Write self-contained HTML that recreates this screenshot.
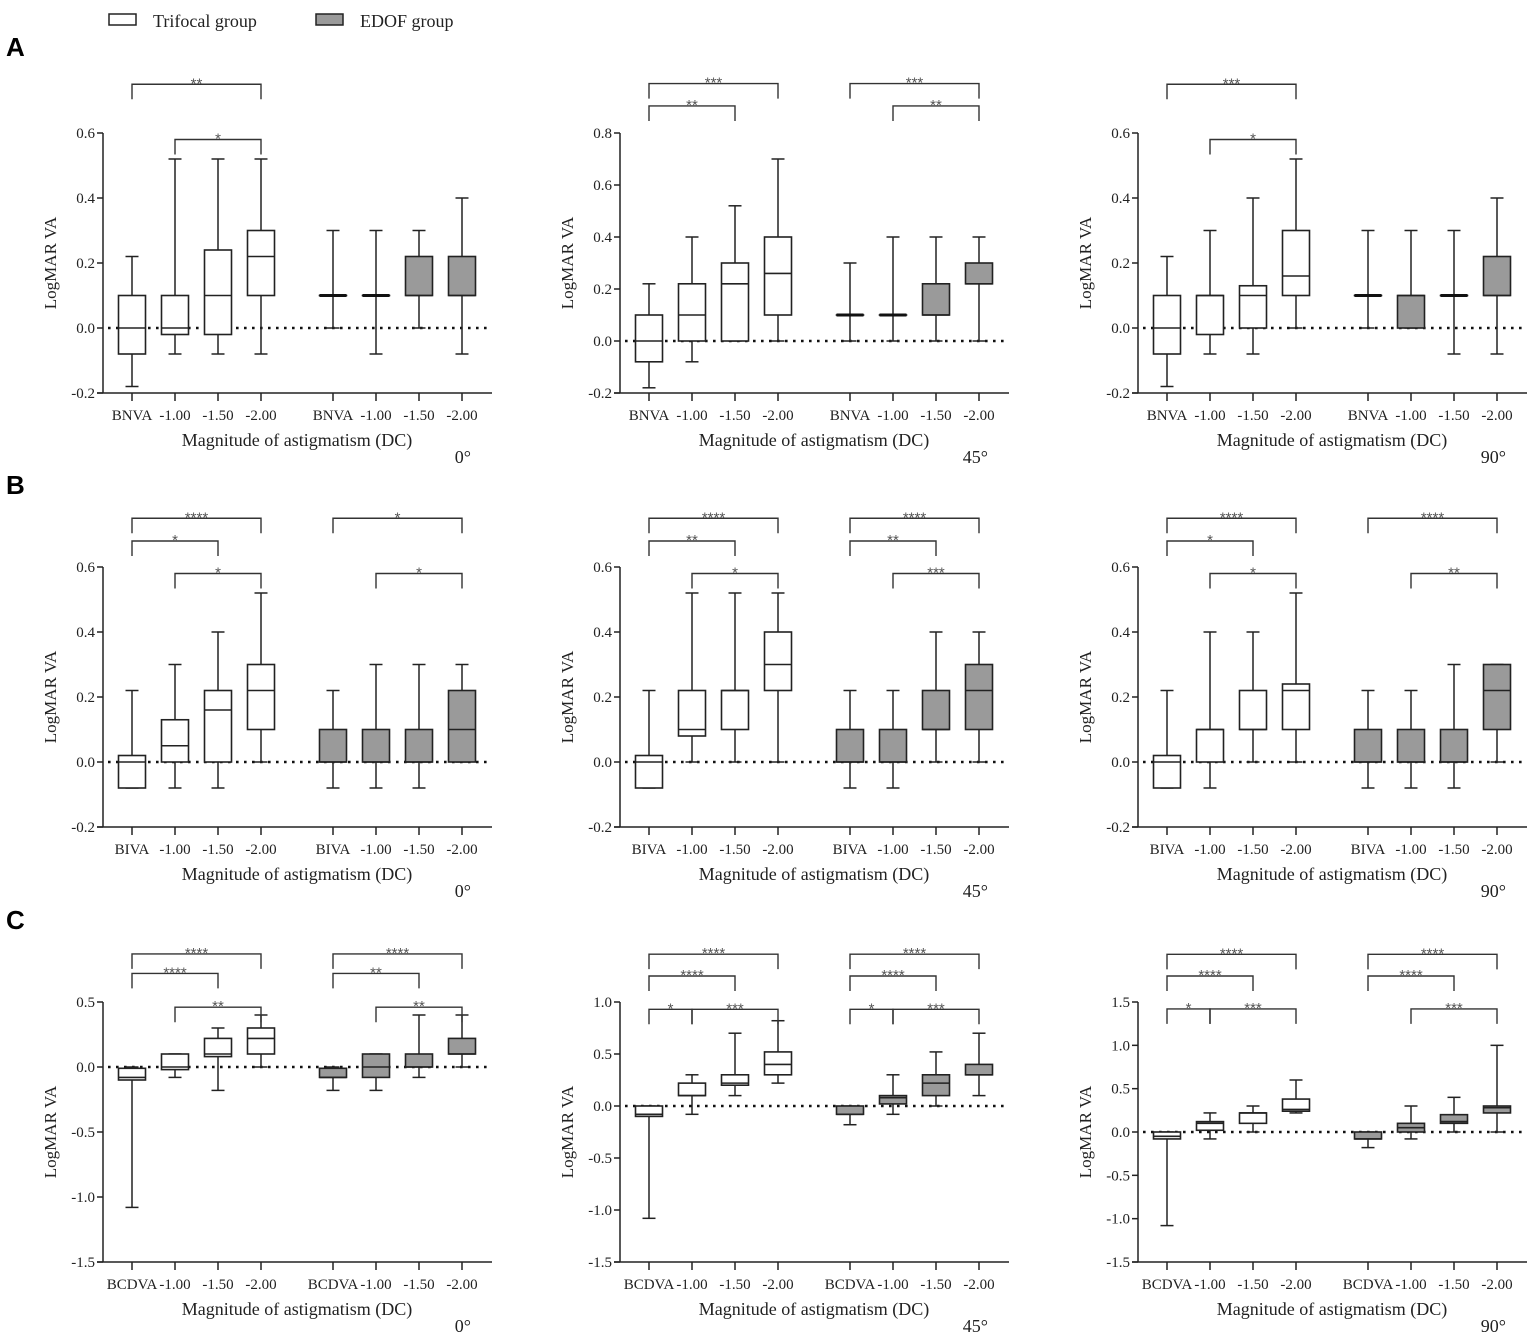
<!DOCTYPE html>
<html><head><meta charset="utf-8"><style>
html,body{margin:0;padding:0;background:#fff;}
svg{display:block;font-family:"Liberation Serif",serif;}
</style></head><body>
<svg id="fig" width="1535" height="1337" viewBox="0 0 1535 1337">
<g>
<rect x="109" y="14" width="27" height="11" fill="#fff" stroke="#222" stroke-width="1.5"/>
<text x="153" y="27" font-size="18" fill="#222">Trifocal group</text>
<rect x="316" y="14" width="27" height="11" fill="#9a9a9a" stroke="#222" stroke-width="1.5"/>
<text x="360" y="27" font-size="18" fill="#222">EDOF group</text>
</g>
<text x="6" y="56" font-family="Liberation Sans,sans-serif" font-weight="bold" font-size="26">A</text>
<text x="6" y="494" font-family="Liberation Sans,sans-serif" font-weight="bold" font-size="26">B</text>
<text x="6" y="929" font-family="Liberation Sans,sans-serif" font-weight="bold" font-size="26">C</text>
</svg>
<script>
// ---- data ----
const categoriesA = ["BNVA","-1.00","-1.50","-2.00","BNVA","-1.00","-1.50","-2.00"];
const categoriesB = ["BIVA","-1.00","-1.50","-2.00","BIVA","-1.00","-1.50","-2.00"];
const categoriesC = ["BCDVA","-1.00","-1.50","-2.00","BCDVA","-1.00","-1.50","-2.00"];
const angleLabels = ["0°","45°","90°"];
// box stats: [min, q1, median, q3, max]; first 4 trifocal, last 4 EDOF
const boxesA1 = [[-0.18,-0.08,0,0.1,0.22],[-0.08,-0.02,0,0.1,0.52],[-0.08,-0.02,0.1,0.24,0.52],[-0.08,0.1,0.22,0.3,0.52],
                 [0,0.1,0.1,0.1,0.3],[-0.08,0.1,0.1,0.1,0.3],[0,0.1,0.1,0.22,0.3],[-0.08,0.1,0.1,0.22,0.4]];
const boxesA2 = [[-0.18,-0.08,0,0.1,0.22],[-0.08,0,0.1,0.22,0.4],[0,0,0.22,0.3,0.52],[0,0.1,0.26,0.4,0.7],
                 [0,0.1,0.1,0.1,0.3],[0,0.1,0.1,0.1,0.4],[0,0.1,0.1,0.22,0.4],[0,0.22,0.22,0.3,0.4]];
const boxesA3 = [[-0.18,-0.08,0,0.1,0.22],[-0.08,-0.02,0.1,0.1,0.3],[-0.08,0,0.1,0.13,0.4],[0,0.1,0.16,0.3,0.52],
                 [0,0.1,0.1,0.1,0.3],[0,0,0.1,0.1,0.3],[-0.08,0.1,0.1,0.1,0.3],[-0.08,0.1,0.1,0.22,0.4]];
const boxesB1 = [[-0.08,-0.08,0,0.02,0.22],[-0.08,0,0.05,0.13,0.3],[-0.08,0,0.16,0.22,0.4],[0,0.1,0.22,0.3,0.52],
                 [-0.08,0,0,0.1,0.22],[-0.08,0,0,0.1,0.3],[-0.08,0,0,0.1,0.3],[0,0,0.1,0.22,0.3]];
const boxesB2 = [[-0.08,-0.08,0,0.02,0.22],[0,0.08,0.1,0.22,0.52],[0,0.1,0.22,0.22,0.52],[0,0.22,0.3,0.4,0.52],
                 [-0.08,0,0,0.1,0.22],[-0.08,0,0,0.1,0.22],[0,0.1,0.1,0.22,0.4],[0,0.1,0.22,0.3,0.4]];
const boxesB3 = [[-0.08,-0.08,0,0.02,0.22],[-0.08,0,0.1,0.1,0.4],[0,0.1,0.1,0.22,0.4],[0,0.1,0.22,0.24,0.52],
                 [-0.08,0,0,0.1,0.22],[-0.08,0,0,0.1,0.22],[-0.08,0,0,0.1,0.3],[0,0.1,0.22,0.3,0.3]];
const boxesC1 = [[-1.08,-0.1,-0.08,-0.01,0],[-0.08,-0.02,0,0.1,0.1],[-0.18,0.08,0.1,0.22,0.3],[0,0.1,0.22,0.3,0.4],
                 [-0.18,-0.08,-0.08,-0.01,0],[-0.18,-0.08,0,0.1,0.1],[-0.08,0,0,0.1,0.4],[0,0.1,0.1,0.22,0.4]];
const boxesC2 = [[-1.08,-0.1,-0.08,0,0],[-0.08,0.1,0.1,0.22,0.3],[0.1,0.2,0.22,0.3,0.7],[0.22,0.3,0.4,0.52,0.82],
                 [-0.18,-0.08,-0.08,0,0],[-0.08,0.02,0.08,0.1,0.3],[0,0.1,0.22,0.3,0.52],[0.1,0.3,0.3,0.4,0.7]];
const boxesC3 = [[-1.08,-0.08,-0.05,0,0],[-0.08,0.02,0.1,0.12,0.22],[0,0.1,0.22,0.22,0.3],[0.22,0.24,0.26,0.38,0.6],
                 [-0.18,-0.08,-0.08,0,0],[-0.08,0,0.05,0.1,0.3],[0,0.1,0.12,0.2,0.4],[0,0.22,0.28,0.3,1.0]];
// y-axis ranges [min,max,step]
const rangesA = [[-0.2,0.6,0.2],[-0.2,0.8,0.2],[-0.2,0.6,0.2]];
const rangesB = [[-0.2,0.6,0.2],[-0.2,0.6,0.2],[-0.2,0.6,0.2]];
const rangesC = [[-1.5,0.5,0.5],[-1.5,1.0,0.5],[-1.5,1.5,0.5]];
// significance brackets: [from, to, label, yValue]
const sigA1 = [[0,3,"**",0.75],[1,3,"*",0.58]];
const sigA2 = [[0,3,"***",0.99],[0,2,"**",0.904],[4,7,"***",0.99],[5,7,"**",0.904]];
const sigA3 = [[0,3,"***",0.75],[1,3,"*",0.58]];
const sigB1 = [[0,3,"****",0.75],[0,2,"*",0.68],[1,3,"*",0.58],[4,7,"*",0.75],[5,7,"*",0.58]];
const sigB2 = [[0,3,"****",0.75],[0,2,"**",0.68],[1,3,"*",0.58],[4,7,"****",0.75],[4,6,"**",0.68],[5,7,"***",0.58]];
const sigB3 = [[0,3,"****",0.75],[0,2,"*",0.68],[1,3,"*",0.58],[4,7,"****",0.75],[5,7,"**",0.58]];
const sigC1 = [[0,3,"****",0.87],[0,2,"****",0.72],[1,3,"**",0.46],[4,7,"****",0.87],[4,6,"**",0.72],[5,7,"**",0.46]];
const sigC2 = [[0,3,"****",1.46],[0,2,"****",1.25],[0,1,"*",0.93],[1,3,"***",0.93],[4,7,"****",1.46],[4,6,"****",1.25],[4,5,"*",0.93],[5,7,"***",0.93]];
const sigC3 = [[0,3,"****",2.05],[0,2,"****",1.8],[0,1,"*",1.42],[1,3,"***",1.42],[4,7,"****",2.05],[4,6,"****",1.8],[5,7,"***",1.42]];

const NS="http://www.w3.org/2000/svg";
const svg=document.getElementById('fig');
function mk(tag,attrs,parent){const e=document.createElementNS(NS,tag);for(const k in attrs)e.setAttribute(k,attrs[k]);parent.appendChild(e);return e;}

const panels=[
 [boxesA1,categoriesA,rangesA[0],sigA1,0,0,0],[boxesA2,categoriesA,rangesA[1],sigA2,1,0,1],[boxesA3,categoriesA,rangesA[2],sigA3,2,0,2],
 [boxesB1,categoriesB,rangesB[0],sigB1,0,1,0],[boxesB2,categoriesB,rangesB[1],sigB2,1,1,1],[boxesB3,categoriesB,rangesB[2],sigB3,2,1,2],
 [boxesC1,categoriesC,rangesC[0],sigC1,0,2,0],[boxesC2,categoriesC,rangesC[1],sigC2,1,2,1],[boxesC3,categoriesC,rangesC[2],sigC3,2,2,2]];
const colOff=[0,517,1035], rowOff=[0,434,869];
const rowNames=["a","b","c"];

panels.forEach(p=>{
 const [boxes,cats,range,sigs,col,row,ai]=p;
 const ox=colOff[col], oy=rowOff[row];
 const g=mk('g',{},svg);
 
 
 const top=133+oy, bot=393+oy, ax=103+ox, right=492+ox;
 const y=v=>bot-(v-range[0])/(range[1]-range[0])*(bot-top);
 const xc=i=>ox+132+i*43+(i>=4?29:0);
 const ya=mk('line',{x1:ax,y1:top,x2:ax,y2:bot,stroke:'#222','stroke-width':1.5},g);
 
 
 const xa=mk('line',{x1:ax-6,y1:bot,x2:right,y2:bot,stroke:'#222','stroke-width':1.5},g);
 
 
 const nT=Math.round((range[1]-range[0])/range[2]);
 for(let k=0;k<=nT;k++){
  const v=range[0]+k*range[2], yy=y(v);
  mk('line',{x1:ax-6,y1:yy,x2:ax,y2:yy,stroke:'#222','stroke-width':1.5},g);
  const t=mk('text',{x:ax-8,y:yy+5,'text-anchor':'end','font-size':15,fill:'#222'},g);
  t.textContent=v.toFixed(1);
  
  
 }
 const z=mk('line',{x1:ax+5,y1:y(0),x2:right-3,y2:y(0),stroke:'#111','stroke-width':2.6,'stroke-dasharray':'2.6 5.4'},g);
 
 
 const yt=mk('text',{x:0,y:0,'font-size':17,'text-anchor':'middle',fill:'#222',transform:`translate(${ox+56},${(top+bot)/2}) rotate(-90)`},g);
 yt.textContent='LogMAR VA';
 
 
 const xt=mk('text',{x:ox+297,y:oy+446,'font-size':18,'text-anchor':'middle',fill:'#222'},g);
 xt.textContent='Magnitude of astigmatism (DC)';
 
 
 const an=mk('text',{x:ox+471,y:oy+463,'font-size':18,'text-anchor':'end',fill:'#222'},g);
 an.textContent=angleLabels[ai];
 
 
 boxes.forEach((b,i)=>{
  const cx=xc(i), w=27, cw=13;
  const bg=mk('g',{},g);
  
  
  mk('line',{x1:cx,y1:bot,x2:cx,y2:bot+8,stroke:'#222','stroke-width':1.5},g);
  const tl=mk('text',{x:cx,y:oy+420,'font-size':15,'text-anchor':'middle',fill:'#222'},g);
  tl.textContent=cats[i];
  
  
  mk('line',{x1:cx,y1:y(b[0]),x2:cx,y2:y(b[4]),stroke:'#222','stroke-width':1.5},bg);
  mk('line',{x1:cx-cw/2,y1:y(b[0]),x2:cx+cw/2,y2:y(b[0]),stroke:'#222','stroke-width':1.5},bg);
  mk('line',{x1:cx-cw/2,y1:y(b[4]),x2:cx+cw/2,y2:y(b[4]),stroke:'#222','stroke-width':1.5},bg);
  mk('rect',{x:cx-w/2,y:y(b[3]),width:w,height:Math.max(0.01,y(b[1])-y(b[3])),fill:i<4?'#fff':'#9a9a9a',stroke:'#222','stroke-width':1.6},bg);
  mk('line',{x1:cx-w/2,y1:y(b[2]),x2:cx+w/2,y2:y(b[2]),stroke:'#222','stroke-width':1.6},bg);
  if(b[1]===b[3]) mk('line',{x1:cx-w/2,y1:y(b[2]),x2:cx+w/2,y2:y(b[2]),stroke:'#111','stroke-width':3},bg);
 });
 sigs.forEach(s=>{
  const [a,bb,lab,v]=s, yy=y(v);
  const sg=mk('g',{},g);
  
  
  mk('polyline',{points:`${xc(a)},${yy+15} ${xc(a)},${yy} ${xc(bb)},${yy} ${xc(bb)},${yy+15}`,fill:'none',stroke:'#333','stroke-width':1.4},sg);
  const t=mk('text',{x:(xc(a)+xc(bb))/2,y:yy+4,'font-size':15,'text-anchor':'middle',fill:'#555','font-family':'Liberation Sans,sans-serif'},sg);
  t.textContent=lab;
 });
});
</script>
</body></html>
